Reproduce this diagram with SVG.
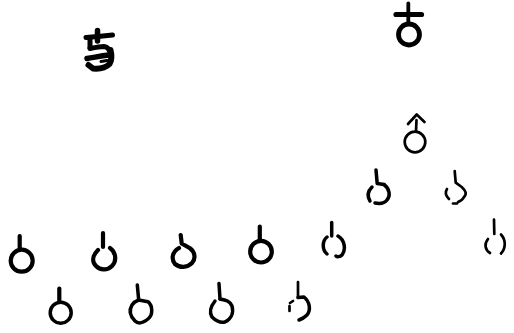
<svg xmlns="http://www.w3.org/2000/svg" width="514" height="333" viewBox="0 0 514 333">
<style>
path,circle{fill:none;stroke:#000;stroke-linecap:round;stroke-linejoin:round}
.a{stroke-width:4.200}.b{stroke-width:3.500}.c{stroke-width:2.700}.d{stroke-width:2}
</style>
<rect width="514" height="333" fill="#fff"/>
<g id="glyph-left">
<path d="M97.500 30.500V41" stroke-width="5.500"/>
<path d="M86 37.500L98 36.500L112.500 35" stroke-width="5"/>
<path d="M90 38.500V48" stroke-width="5"/>
<path d="M90 48.500C95 47.500 100 46.500 104 46.500C108 47 110 50 110.500 55" stroke-width="5"/>
<path d="M110.500 50C112 56 112 60 109.500 64C105 68.500 99 69 93 68.500L88.500 65" stroke-width="6"/>
<path d="M87 58.500C94 57.500 100 56 109 55" stroke-width="5.500"/>
<path d="M101 61.500L107 60.500" stroke-width="3"/>
</g>
<g id="glyph-right">
<path d="M408.300 3.500V23" stroke-width="3.800"/>
<path d="M396 14.500L421.500 14.500" stroke-width="5.200"/>
<circle cx="409" cy="34.500" r="10.500" stroke-width="4.800"/>
</g>
<g id="n-apex">
<path class="c" d="M408 124L416.700 114.500L424.500 122"/>
<path class="c" d="M416.500 120L416 131"/>
<circle class="c" cx="415" cy="142" r="10.300"/>
</g>
<g id="n1">
<path class="b" d="M376 170L377.200 183.500L384 184.500"/>
<path class="b" d="M384 184.500C390 189 390.500 196 387 200C384 204 379 203.800 375 203"/>
<path class="b" d="M370 201C367 196 368 191 372 187"/>
</g>
<g id="n2">
<path class="c" d="M454.700 171L455.700 182.700L461.700 187C466 191 467 194 464 197C463 199 461 201 458 202"/>
<path class="c" d="M447 189C445 192 446 196 449 199"/>
<path class="c" d="M453 203.500L457 203.500"/>
</g>
<g id="n3">
<path class="c" d="M494 219.500L494.300 234"/>
<path class="c" d="M488 239C484 244 485 250 490 253"/>
<path class="c" d="M501 234.500C506 240 506 248 501 253.500"/>
</g>
<g id="n4">
<path class="a" d="M19.700 236V248" stroke-width="4.800"/>
<circle class="a" cx="21.700" cy="260.700" r="11"/>
</g>
<g id="n5">
<path class="a" d="M103 233V247"/>
<path class="a" d="M110 248C116 252 117 261 112 266C107 271 100 270 96 266C92 262 92 256 98 250"/>
</g>
<g id="n6">
<path class="a" d="M180.700 235L181.700 243.500L190 248.300C195 252 196 259 192 263C187 268 180 268 175 264C171 259 172 252 179 248"/>
</g>
<g id="n7">
<path class="a" d="M259.800 226.500V240"/>
<circle class="a" cx="261" cy="251.700" r="10.800"/>
</g>
<g id="n8">
<path class="b" d="M331.700 222.500V236"/>
<path class="b" d="M327 237C322 241 322 250 327 254M338 236C345 240 346 250 342 255C340 257 337 257 336 256"/>
</g>
<g id="n9">
<path class="a" d="M59.300 288.500V301.500"/>
<circle class="b" cx="60.700" cy="312.700" r="10.500"/>
</g>
<g id="n10">
<path class="b" d="M137.300 285L138.700 300L148 301.700C153 306 153 315 148 319C143 323 138 324 135 321C130 316 129 310 132 305C134 302 136 301 138.700 300"/>
</g>
<g id="n11">
<path class="b" d="M219 283.500L220 299"/>
<path class="b" d="M215 301C211 306 209 312 212 317C216 321 221 323 225 322C231 319 234 313 232 306C230 301 226 300 220 299"/>
</g>
<g id="n12">
<path class="c" d="M298 282V297.500"/>
<path class="b" d="M298 297.500L304 297C310 302 311 310 307 315C304 318 302 319 299 320"/>
<path class="c" d="M290 303L293 301M289.500 306V311"/>
</g>
</svg>
